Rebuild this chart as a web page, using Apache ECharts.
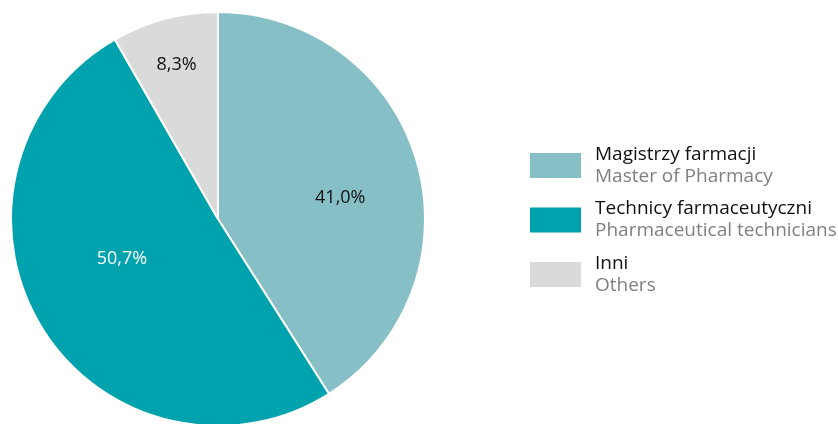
<!DOCTYPE html>
<html>
<head>
<meta charset="utf-8">
<script src="https://cdn.jsdelivr.net/npm/echarts@6/dist/echarts.min.js"></script>
<style>
  html, body { margin: 0; padding: 0; background: #fff; }
  #chart_pie { width: 838px; height: 424px; }
</style>
</head>
<body>
<div id="chart_pie"></div>
<script>
// dane wykresu
var names_pl = ['Magistrzy farmacji', 'Technicy farmaceutyczni', 'Inni'];
var names_en = ['Master of Pharmacy', 'Pharmaceutical technicians', 'Others'];
var values = [41.0, 50.7, 8.3];
var colors = ['#86c0c6', '#00a3ad', '#dadada'];
var label_colors = ['#111111', '#ffffff', '#111111'];

// przesunięcie etykiet względem domyślnej pozycji (jak na oryginale)
var label_shift = [[20, 9], [-5, -15], [-14, -51]];

var chart_pie = echarts.init(document.getElementById('chart_pie'));

let pie_data = values.map(function (v, i) {
    return {
        name: names_pl[i],
        value: v,
        itemStyle: { color: colors[i] },
        label: { color: label_colors[i] }
    };
});

let option = {
    animation: false,
    legend: {
        orient: 'vertical',
        left: 523,
        top: 140,
        itemWidth: 53,
        itemHeight: 27,
        itemGap: 13.5,
        selectedMode: false,
        icon: 'rect',
        data: names_pl,
        formatter: function (name) {
            let i = names_pl.indexOf(name);
            return '{a|' + name + '}\n{b|' + names_en[i] + '}';
        },
        textStyle: {
            padding: [0, 0, 0, 8],
            rich: {
                a: { fontFamily: 'Open Sans', fontSize: 19, color: '#111111', lineHeight: 22 },
                b: { fontFamily: 'Open Sans', fontSize: 19, color: '#808080', lineHeight: 22 }
            }
        }
    },
    series: [
        {
            type: 'pie',
            center: [218, 219],
            radius: [0, 207],
            startAngle: 90,
            clockwise: true,
            data: pie_data,
            itemStyle: { borderColor: '#ffffff', borderWidth: 2 },
            emphasis: { disabled: true },
            label: {
                position: 'inside',
                fontFamily: 'Open Sans',
                fontSize: 18,
                formatter: function (p) {
                    return p.value.toFixed(1).replace('.', ',') + '%';
                }
            },
            labelLayout: function (params) {
                let s = label_shift[params.dataIndex];
                return { dx: s[0], dy: s[1] };
            }
        }
    ]
};

chart_pie.setOption(option);
</script>
</body>
</html>
